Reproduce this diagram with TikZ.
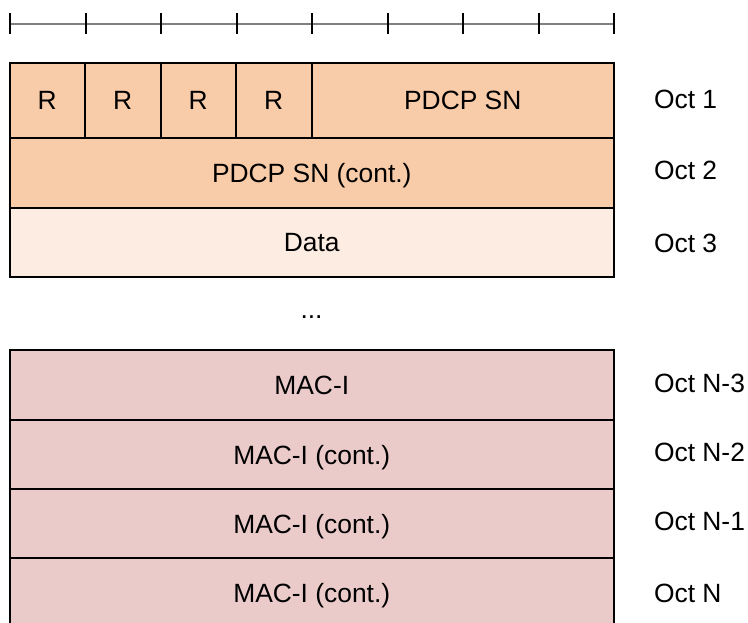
\documentclass[tikz,border=0pt]{standalone}
\usepackage{fontspec}
\setmainfont{Liberation Sans}
\definecolor{snfill}{HTML}{F8CBA9}
\definecolor{datafill}{HTML}{FCECE1}
\definecolor{macfill}{HTML}{EBCBCA}

\begin{document}
\begin{tikzpicture}[
		x=0.75pt, y=-0.75pt,
		every node/.style={inner sep=0pt, outer sep=0pt, text depth=0pt, font=\fontsize{19.8}{24}\selectfont},
		field/.style={draw, line width=1.5pt, anchor=north west, minimum width=453.375pt, minimum height=51.75pt},
		hdr/.style={field, fill=snfill},
		oct/.style={anchor=west}
	]
  \clip (0,0) rectangle (748,623);
  % ruler
  \draw[line width=1.5pt, gray] (10,24) -- (614,24);
  \foreach \i in {0,...,8}
    \draw[line width=1.5pt] (10+75.5*\i,13) -- (10+75.5*\i,34);
  % header
  \foreach \i in {1,...,4}
    \node (r\i) [hdr, minimum width=56.625pt, minimum height=56.25pt] at (9.5+75.5*\i-75.5,63) {R};
  \node (sn) [hdr, minimum width=226.875pt, minimum height=56.25pt] at (311.5,63) {PDCP SN};
  \node (sn_cont) [hdr, minimum height=52.5pt] at (9.5,138) {PDCP SN (cont.)};
  \node (data) [field, fill=datafill] at (9.5,208) {Data};
  \node (dots) at (311.5,317) {...};
  % MAC-I
  \node (mac) [field, fill=macfill, minimum height=52.5pt] at (9.5,350) {MAC-I};
  \node (mac_2) [field, fill=macfill] at (9.5,420) {MAC-I (cont.)};
  \node (mac_3) [field, fill=macfill] at (9.5,489) {MAC-I (cont.)};
  \node (mac_4) [field, fill=macfill] at (9.5,558) {MAC-I (cont.)};
  % octets
  \node (oct_1) [oct] at (654,99) {Oct 1};
  \node (oct_2) [oct] at (654,170) {Oct 2};
  \node (oct_3) [oct] at (654,243) {Oct 3};
  \node (oct_n3) [oct] at (654,383) {Oct N-3};
  \node (oct_n2) [oct] at (654,452) {Oct N-2};
  \node (oct_n1) [oct] at (654,521) {Oct N-1};
  \node (oct_n) [oct] at (654,593) {Oct N};
\end{tikzpicture}
\end{document}
